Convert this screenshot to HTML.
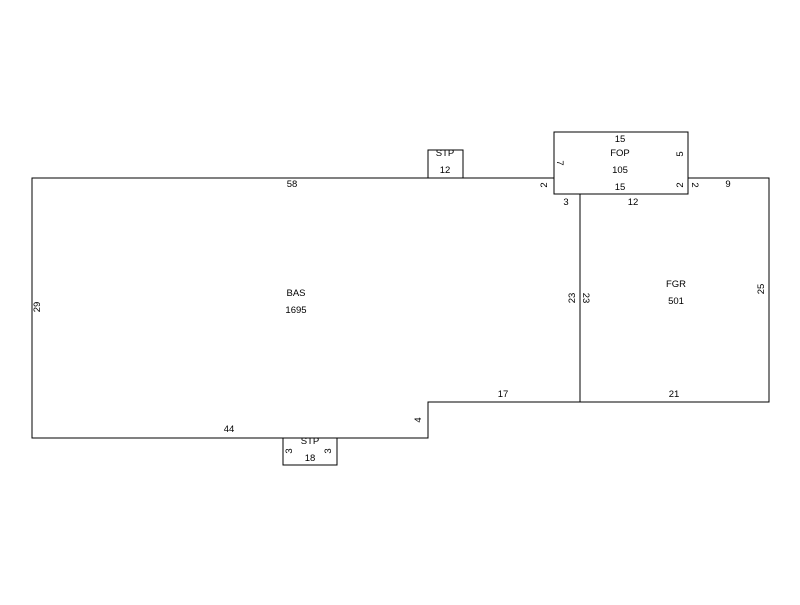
<!DOCTYPE html>
<html><head><style>body{margin:0;background:#fff}</style></head><body>
<svg width="800" height="600" xmlns="http://www.w3.org/2000/svg" font-family="Liberation Sans, sans-serif" font-size="9.5" fill="#000">
<rect width="800" height="600" fill="#fff"/>
<g stroke="#000" stroke-width="1" fill="none" shape-rendering="crispEdges">
<polyline points="554,178 32,178 32,438 428,438 428,402 769,402 769,178 688,178"/>
<rect x="554" y="132" width="134" height="62"/>
<line x1="580" y1="194" x2="580" y2="402"/>
<polyline points="428,178 428,150 463,150 463,178"/>
<polyline points="283,438 283,465 337,465 337,438"/>
</g>
<g text-anchor="middle">
<text x="292" y="187">58</text>
<text x="296" y="296">BAS</text>
<text x="296" y="313">1695</text>
<text x="445" y="156">STP</text>
<text x="445" y="173">12</text>
<text x="620" y="142">15</text>
<text x="620" y="156">FOP</text>
<text x="620" y="173">105</text>
<text x="620" y="190">15</text>
<text x="633" y="205">12</text>
<text x="566" y="205">3</text>
<text x="728" y="187">9</text>
<text x="676" y="287">FGR</text>
<text x="676" y="304">501</text>
<text x="503" y="397">17</text>
<text x="674" y="397">21</text>
<text x="229" y="432">44</text>
<text x="310" y="444">STP</text>
<text x="310" y="461">18</text>
<text transform="translate(40,307) rotate(-90)">29</text>
<text transform="translate(575,298) rotate(-90)">23</text>
<text transform="translate(583,298) rotate(90)">23</text>
<text transform="translate(764,289) rotate(-90)">25</text>
<text transform="translate(421,420) rotate(-90)">4</text>
<text transform="translate(547,185) rotate(-90)">2</text>
<text transform="translate(683,185) rotate(-90)">2</text>
<text transform="translate(692,185) rotate(90)">2</text>
<text transform="translate(557,163) rotate(90)">7</text>
<text transform="translate(683,154) rotate(-90)">5</text>
<text transform="translate(292,451) rotate(-90)">3</text>
<text transform="translate(331,451) rotate(-90)">3</text>
</g>
</svg>
</body></html>
